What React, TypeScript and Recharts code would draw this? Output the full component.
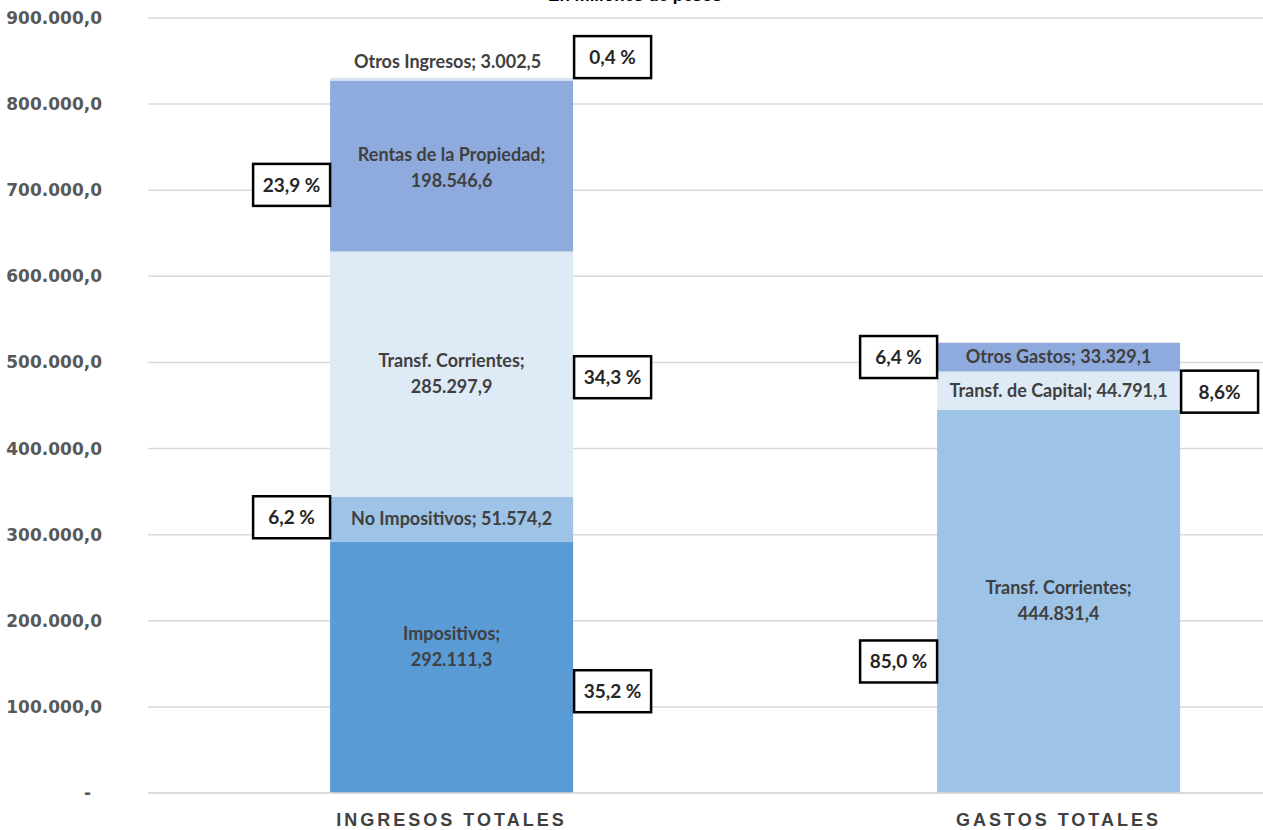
import { BarChart, Bar, XAxis, YAxis, CartesianGrid, LabelList } from 'recharts'

const categories = ['INGRESOS TOTALES', 'GASTOS TOTALES']

// millones de pesos
const impositivos = [292111.3, 0]
const noImpositivos = [51574.2, 0]
const transfCorrientes = [285297.9, 0]
const rentasPropiedad = [198546.6, 0]
const otrosIngresos = [3002.5, 0]
const gastosTransfCorrientes = [0, 444831.4]
const transfCapital = [0, 44791.1]
const otrosGastos = [0, 33329.1]

const seriesNames = [
  'Impositivos',
  'No Impositivos',
  'Transf. Corrientes',
  'Rentas de la Propiedad',
  'Otros Ingresos',
  'Transf. Corrientes',
  'Transf. de Capital',
  'Otros Gastos',
]
const seriesValues = [
  impositivos,
  noImpositivos,
  transfCorrientes,
  rentasPropiedad,
  otrosIngresos,
  gastosTransfCorrientes,
  transfCapital,
  otrosGastos,
]
const pctLabels = ['35,2 %', '6,2 %', '34,3 %', '23,9 %', '0,4 %', '85,0 %', '8,6%', '6,4 %']

const yTicks = [0, 100000, 200000, 300000, 400000, 500000, 600000, 700000, 800000, 900000]

// styling per series (same order as above)
const COLORS = ['#5B9BD5', '#9DC3E6', '#DEEBF7', '#8FAADC', '#DAE3F3', '#9DC3E6', '#DEEBF7', '#8FAADC']
const LABEL_MODE = ['two', 'one', 'two', 'two', 'above', 'two', 'one', 'one']
const LABEL_DY = [-20, 0, 0, 2, -17, 0, 0, 0]
const PCT_SIDE = ['right', 'left', 'right', 'left', 'right', 'left', 'right', 'left']
const PCT_DY = [24, -2, 3, 19, -22, 60, 1, 0]

const data = categories.map((name, i) => {
  const row: Record<string, string | number> = { name }
  seriesValues.forEach((vals, s) => {
    row['s' + s] = vals[i]
  })
  return row
})

function fmt(v: number) {
  const [int, dec] = v.toFixed(1).split('.')
  return int.replace(/\B(?=(\d{3})+(?!\d))/g, '.') + ',' + dec
}

const LABEL_FONT = 'Lato, "Noto Sans", sans-serif'
const AXIS_FONT = '"DejaVu Sans", Verdana, sans-serif'

function YTick(props: any) {
  const { y, payload } = props
  const v = payload.value as number
  return (
    <text
      x={v === 0 ? 91 : 102}
      y={y}
      dy={6}
      textAnchor="end"
      fontFamily={AXIS_FONT}
      fontWeight="bold"
      fontSize={17}
      fill="#595959"
    >
      {v === 0 ? '-' : fmt(v)}
    </text>
  )
}

function XTick(props: any) {
  const { x, y, payload } = props
  return (
    <text
      x={x}
      y={y + 25}
      textAnchor="middle"
      fontFamily='"Liberation Sans", Arial, sans-serif'
      fontWeight="bold"
      fontSize={18}
      letterSpacing={3}
      fill="#404040"
    >
      {payload.value}
    </text>
  )
}

function makeSegmentLabel(s: number) {
  return (props: any) => {
    const { x, y, width, height, value } = props
    if (!value) return null
    const cx = x + width / 2
    const cy = y + height / 2 + LABEL_DY[s]
    const common = {
      textAnchor: 'middle' as const,
      fontFamily: LABEL_FONT,
      fontWeight: 'bold',
      fontSize: 18,
      fill: '#404040',
    }
    if (LABEL_MODE[s] === 'two') {
      return (
        <text x={cx} y={cy} {...common}>
          <tspan x={cx} dy={-7}>{seriesNames[s] + ';'}</tspan>
          <tspan x={cx} dy={26}>{fmt(value)}</tspan>
        </text>
      )
    }
    return (
      <text x={cx - (LABEL_MODE[s] === 'above' ? 4 : 0)} y={cy + 6} {...common}>
        {seriesNames[s] + '; ' + fmt(value)}
      </text>
    )
  }
}

function makePctLabel(s: number) {
  return (props: any) => {
    const { x, y, width, height, value } = props
    if (!value) return null
    const w = 77
    const h = 42
    const bx = PCT_SIDE[s] === 'right' ? x + width + 1 : x - w
    const cy = y + height / 2 + PCT_DY[s]
    return (
      <g>
        <rect x={bx} y={cy - h / 2} width={w} height={h} fill="#fff" stroke="#000" strokeWidth={2.5} />
        <text
          x={bx + w / 2}
          y={cy + 7}
          textAnchor="middle"
          fontFamily={LABEL_FONT}
          fontWeight="bold"
          fontSize={19}
          fill="#262626"
        >
          {pctLabels[s]}
        </text>
      </g>
    )
  }
}

export default function App() {
  return (
    <div style={{ position: 'absolute', left: 0, top: 0, width: 1263, height: 830, overflow: 'hidden', background: '#fff' }}>
      <BarChart
        width={1362}
        height={830}
        data={data}
        margin={{ top: 18, right: 0, bottom: 0, left: 0 }}
        barCategoryGap="30%"
      >
        <text
          x={635}
          y={1}
          textAnchor="middle"
          fontFamily='"Liberation Sans", Arial, sans-serif'
          fontWeight="bold"
          fontSize={17}
          fill="#000"
        >
          En millones de pesos
        </text>
        <CartesianGrid vertical={false} stroke="#d9d9d9" strokeWidth={1.5} />
        <XAxis
          dataKey="name"
          height={37}
          tickLine={false}
          axisLine={{ stroke: '#d9d9d9', strokeWidth: 1.5 }}
          tick={<XTick />}
          interval={0}
        />
        <YAxis
          width={148}
          domain={[0, 900000]}
          ticks={yTicks}
          axisLine={false}
          tickLine={false}
          tick={<YTick />}
          interval={0}
        />
        {seriesValues.map((_, s) => (
          <Bar key={s} dataKey={'s' + s} stackId="a" fill={COLORS[s]} isAnimationActive={false}>
            <LabelList dataKey={'s' + s} content={makeSegmentLabel(s)} />
            <LabelList dataKey={'s' + s} content={makePctLabel(s)} />
          </Bar>
        ))}
      </BarChart>
    </div>
  )
}
